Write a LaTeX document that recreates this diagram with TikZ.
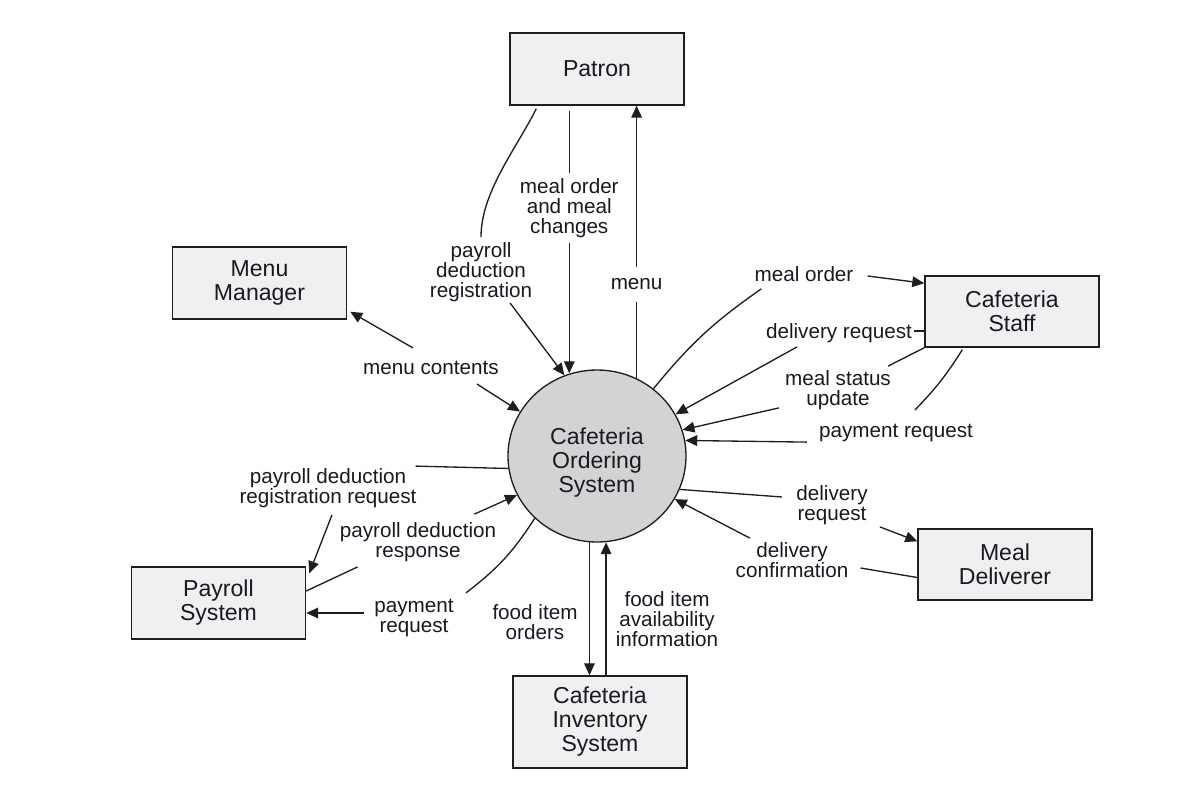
\documentclass[tikz,border=0pt]{standalone}
\usepackage{fontspec}
\setmainfont{Liberation Sans}
\usetikzlibrary{arrows.meta,calc,shapes.geometric}
\definecolor{boxfill}{RGB}{240,240,240}
\definecolor{circfill}{RGB}{211,211,211}
\definecolor{linecol}{RGB}{30,30,30}
\definecolor{txtcol}{RGB}{25,25,35}
\begin{document}
\begin{tikzpicture}[x=0.75pt,y=-0.75pt,
  entity/.style={draw=linecol, line width=1.1pt, fill=boxfill, minimum width=130.5pt, minimum height=54pt, align=center, font=\fontsize{17.3}{18}\selectfont, text=txtcol, inner sep=0pt},
  proc/.style={ellipse, draw=linecol, line width=1pt, fill=circfill, minimum width=133.5pt, minimum height=129pt, inner sep=0pt},
  proctext/.style={align=center, font=\fontsize{17.3}{18}\selectfont, text=txtcol, inner sep=0pt},
  lbl/.style={align=center, font=\fontsize{15.5}{15}\selectfont, text=txtcol, inner sep=1.5pt},
  flow/.style={draw=linecol, line width=1pt},
  arr/.style={flow, -{Triangle[length=9pt,width=8pt]}}
]
\useasboundingbox (0,0) rectangle (1198,785);

% entities
\node[entity] (patron) at (597,69) {Patron};
\node[entity] (mm) at (259.5,283) {Menu\\Manager};
\node[entity, minimum height=53.25pt] (staff) at (1012,311.5) {Cafeteria\\Staff};
\node[entity, minimum height=53.25pt] (deliv) at (1005,564.5) {Meal\\Deliverer};
\node[entity] (pay) at (218.5,603) {Payroll\\System};
\node[entity, minimum height=69pt] (inv) at (600,722) {Cafeteria\\Inventory\\System};
\node[proc] (circ) at (597,456) {};
\node[proctext] (circtxt) at (597,463) {Cafeteria\\Ordering\\System};

% labels
\node[lbl] (lpdr) at (481,272) {payroll\\deduction\\registration};
\node[lbl] (lmc) at (431,368) {menu contents};
\node[lbl] (lmo2) at (804,274) {meal order};
\node[lbl] (ldr1) at (839,333) {delivery request};
\node[lbl] (lmss) at (838,390) {meal status\\update};
\node[lbl] (lpr1) at (896,433) {payment request};
\node[lbl] (ldr2) at (832,505) {delivery\\request};
\node[lbl] (ldc) at (792,560) {delivery\\confirmation};
\node[lbl] (lfio) at (535,622) {food item\\orders};
\node[lbl] (lfia) at (667,619) {food item\\availability\\information};
\node[lbl] (lpr2) at (414,618) {payment\\request};
\node[lbl] (lpdresp) at (418,542) {payroll deduction\\response};
\node[lbl] (lpdrr) at (328,488) {payroll deduction\\registration request};

% Patron flows
\draw[flow] ($(patron.south west)+(27,3)$) .. controls +(-20,40) and +(0,-45) .. ($(lpdr.north)+(0,-3)$);
\draw[arr] ($(lpdr.south)+(29,-1)$) -- (circ.112);
\coordinate (moTop) at ($(patron.south west)+(60,5)$);
\draw[arr] (moTop) -- node[lbl, fill=white, pos=0.37, inner xsep=2pt, inner ysep=4pt] (lmo) {meal order\\and meal\\changes} (moTop |- circ.108);
\draw[arr] (circ.63) -- node[lbl, fill=white, pos=0.345, inner xsep=2pt, inner ysep=9pt] (lmenu) {menu} (circ.63 |- patron.south);

% Menu manager
\draw[arr] ($(lmc.north)+(-18,-11)$) -- ($(mm.south east)+(3,-8)$);
\draw[arr] ($(lmc.south)+(46,7)$) -- (circ.150);

% Cafeteria staff
\draw[flow] (circ.50) to[bend left=8] ($(lmo2.south west)+(9,5)$);
\draw[arr] ($(lmo2.east)+(12,2)$) -- ($(staff.north west)+(0,8)$);
\draw[flow] ($(ldr1.east -| staff.west)+(0,-2)$) -- ($(ldr1.east)+(0,-2)$);
\draw[arr] ($(ldr1.south)+(-42,2)$) -- (circ.28);
\draw[flow] (staff.south west) -- ($(lmss.north east)+(-5,-2)$);
\draw[arr] ($(lmss.south west)+(-4,-4)$) -- (circ.17);
\draw[flow] ($(staff.south west)+(38,2)$) to[bend left=6] ($(lpr1.north)+(19,-12)$);
\draw[arr] ($(lpr1.south west)+(-10,-2)$) -- (circ.10);

% Meal deliverer
\draw[flow] (circ.-22) -- ($(ldr2.west)+(-12,-8)$);
\draw[arr] ($(ldr2.south east)+(10,0)$) -- ($(deliv.north west)+(0,13)$);
\draw[flow] ($(deliv.west)+(0,13)$) -- ($(ldc.east)+(10,8)$);
\draw[arr] ($(ldc.north)+(-42,-2)$) -- (circ.-29);

% Inventory
\draw[arr] (circ.-95) -- (circ.-95 |- inv.north);
\draw[arr] (circ.-84 |- inv.north) -- (circ.-84);

% Payroll
\draw[flow] (circ.-135) to[bend left=10] ($(lpr2.north east)+(10,-4)$);
\draw[arr] ($(lpr2.west)+(-8,-5)$) -- ($(lpr2.west -| pay.east)+(0,-5)$);
\draw[flow] ($(pay.east)+(0,-12)$) -- ($(lpdresp.south west)+(20,3)$);
\draw[arr] ($(lpdresp.north east)+(-24,-6)$) -- (circ.206);
\draw[flow] (circ.188) -- ($(lpdrr.north east)+(-3,0)$);
\draw[arr] ($(lpdrr.south)+(4,5)$) -- ($(pay.north east)+(3,7)$);
\end{tikzpicture}
\end{document}
